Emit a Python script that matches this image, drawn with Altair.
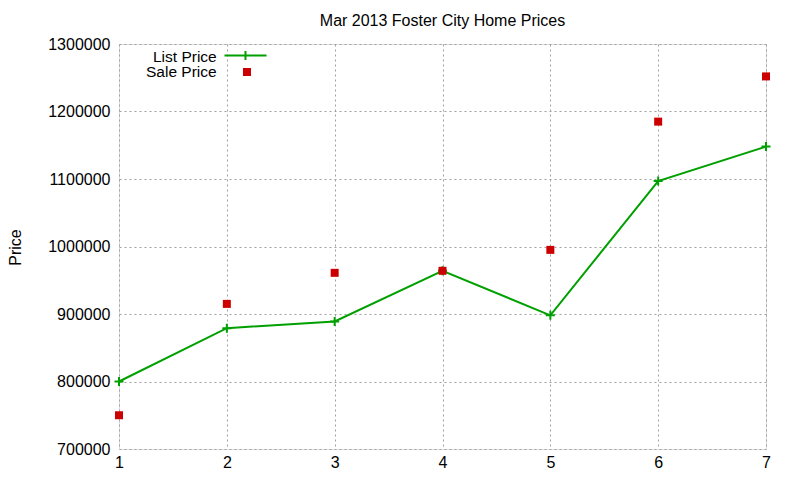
import altair as alt
import pandas as pd

# Data
homes = [1, 2, 3, 4, 5, 6, 7]
list_price = [800000, 879000, 889000, 964000, 898000, 1097000, 1148000]
sale_price = [750000, 915000, 961000, 964000, 995000, 1185000, 1252000]
y_ticks = [700000, 800000, 900000, 1000000, 1100000, 1200000, 1300000]

GREEN = "#00a000"
RED = "#cc0000"
FONT = "Liberation Sans"
GRID = dict(grid=True, gridColor="#a0a0a0", gridDash=[2, 3], gridWidth=1, gridOpacity=1)

list_df = pd.DataFrame({"x": homes, "price": list_price, "series": "List Price"})
sale_df = pd.DataFrame({"x": homes, "price": sale_price, "series": "Sale Price"})

x_enc = alt.X(
    "x:Q",
    scale=alt.Scale(domain=[1, 7], nice=False, zero=False),
    axis=alt.Axis(
        values=homes, format="d", title=None, ticks=False, domain=False,
        labelPadding=5, labelFontSize=16, labelFont=FONT,
        labelColor="black", labelFlush=False, **GRID,
    ),
)
y_enc = alt.Y(
    "price:Q",
    scale=alt.Scale(domain=[700000, 1300000], nice=False, zero=False),
    axis=alt.Axis(
        values=y_ticks, format="d", title="Price", ticks=False, domain=False,
        labelPadding=9, labelFontSize=16, labelFont=FONT,
        labelColor="black", titleFont=FONT, titleFontSize=16,
        titleFontWeight="normal", titleColor="black", titleX=-104, titleY=203,
        titleAngle=-90, titleAlign="center", titleBaseline="middle", **GRID,
    ),
)

LEG_PLUS = "M-4.67,0H4.67M0,-1V1"
PLUS = "M-1,0H1M0,-1V1"

common_legend = dict(
    orient="none",
    padding=0,
    titleOrient="left",
    titleFont=FONT,
    titleFontSize=15.5,
    titleFontWeight="normal",
    titleColor="black",
    titlePadding=8,
    titleAnchor="middle",
    titleBaseline="middle",
    labelExpr="''",
    labelFontSize=1,
    labelOffset=0,
)

line = (
    alt.Chart(list_df)
    .mark_line(strokeWidth=2)
    .encode(
        x=x_enc,
        y=y_enc,
        color=alt.Color(
            "series:N",
            scale=alt.Scale(domain=["List Price"], range=[GREEN]),
            legend=alt.Legend(
                title="List Price", legendX=34, legendY=6, symbolType=LEG_PLUS,
                symbolSize=81, symbolStrokeWidth=2, symbolOffset=15, **common_legend,
            ),
        ),
    )
)

plus = (
    alt.Chart(list_df)
    .mark_point(shape=PLUS, size=81, strokeWidth=2, color=GREEN, opacity=1, filled=False)
    .encode(x=x_enc, y=y_enc)
)

squares = (
    alt.Chart(sale_df)
    .mark_square(size=64, opacity=1, filled=True)
    .encode(
        x=x_enc,
        y=y_enc,
        color=alt.Color(
            "series:N",
            scale=alt.Scale(domain=["Sale Price"], range=[RED]),
            legend=alt.Legend(
                title="Sale Price", legendX=27, legendY=23, symbolType="square",
                symbolSize=64, symbolOffset=17, **common_legend,
            ),
        ),
    )
)

chart = (
    alt.layer(line, plus, squares)
    .resolve_scale(color="independent")
    .properties(
        width=647,
        height=405,
        autosize=alt.AutoSizeParams(type="none"),
        padding={"left": 111, "top": 36, "right": 26, "bottom": 23},
        title=alt.Title(
            "Mar 2013 Foster City Home Prices",
            font=FONT,
            fontSize=16,
            fontWeight="normal",
            color="black",
            anchor="middle",
            offset=7,
        ),
    )
    .configure_view(stroke="black", strokeWidth=1)
    .configure(background="white")
)

chart.save("out.html", embed_options={"renderer": "svg", "actions": False})
